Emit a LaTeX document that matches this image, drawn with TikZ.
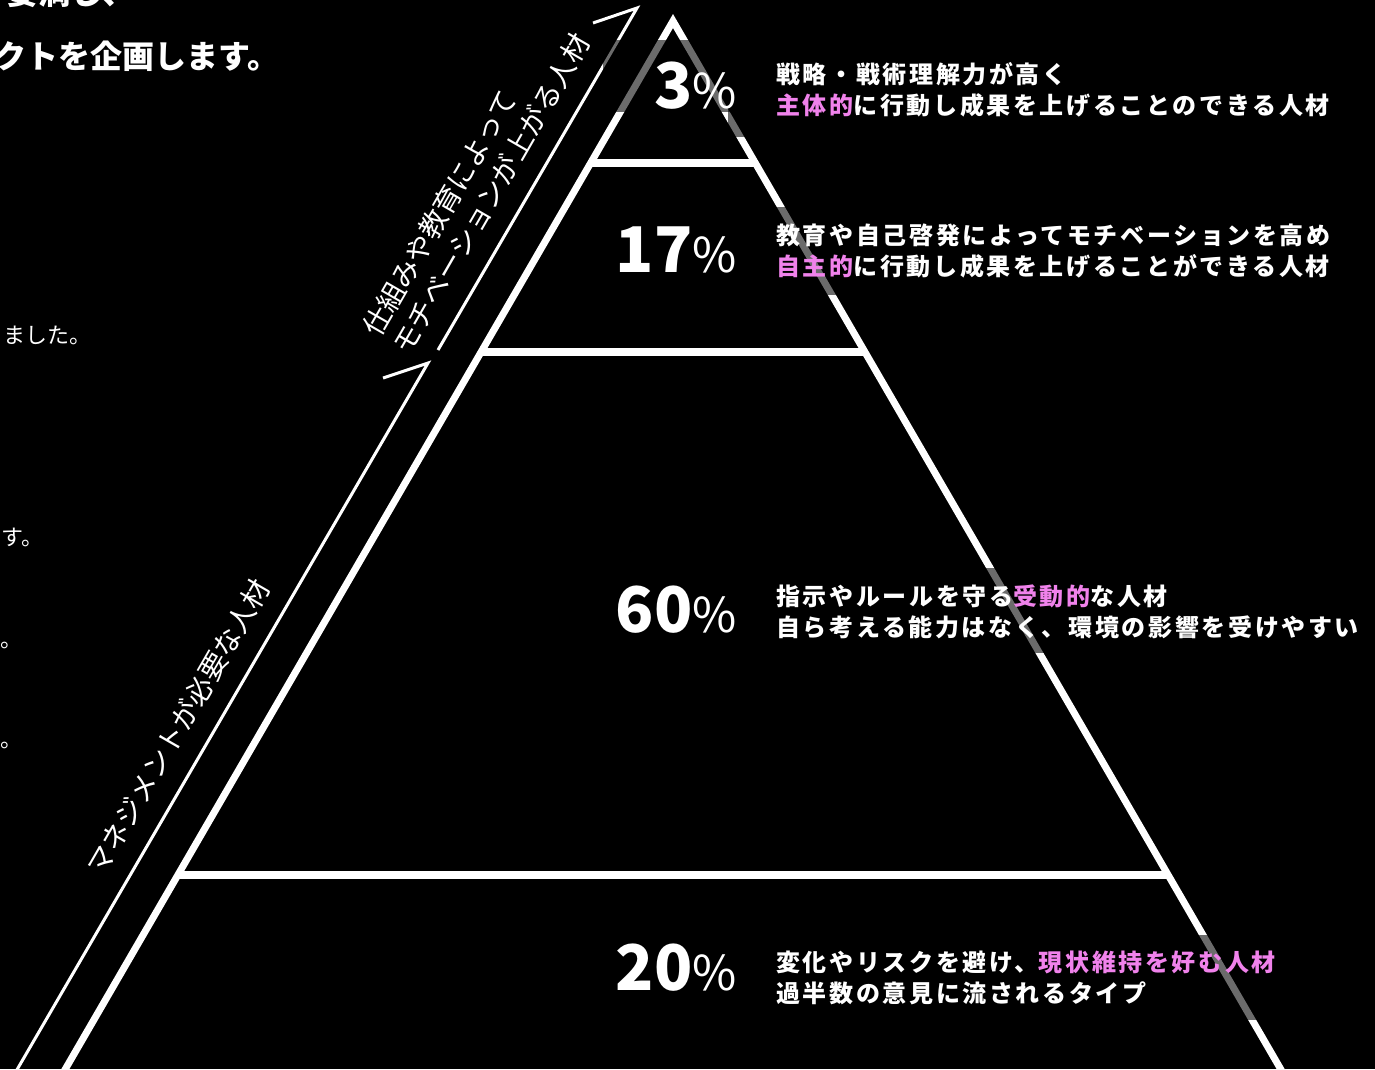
\documentclass[tikz,border=0pt]{standalone}
\usepackage{fontspec}
\newfontfamily\jp{Noto Sans CJK JP}
\newfontfamily\jpsp{Noto Sans CJK JP}[LetterSpace=11]
\definecolor{pinkhl}{RGB}{240,130,235}
\begin{document}
\begin{tikzpicture}[x=1pt,y=-1pt,
  tri/.style={draw=white,line width=7pt,line join=miter},
  band/.style={draw=white,line width=7.5pt},
  brk/.style={draw=white,line width=3pt,line join=miter},
  shade/.style={fill=black,fill opacity=0.58},
  pct/.style={text=white,anchor=base east,inner sep=0pt,font=\jp\bfseries\fontsize{63}{63}\selectfont},
  desc/.style={text=white,anchor=west,align=left,inner sep=0pt,font=\jpsp\bfseries\fontsize{24}{31}\selectfont},
  side/.style={text=white,rotate=60,align=left,inner sep=0pt,font=\jp\fontsize{28}{35}\selectfont},
  pagetxt/.style={text=white,inner sep=0pt,font=\jp\fontsize{22}{22}\selectfont,anchor=base west},
  head/.style={text=white,inner sep=0pt,font=\jp\bfseries\fontsize{32}{32}\selectfont,anchor=west}]
\fill[black] (0,0) rectangle (1375,1069);
\useasboundingbox (0,0) rectangle (1375,1069);
\clip (0,0) rectangle (1375,1069);
% pyramid
\coordinate (A) at (673,21);
\coordinate (BL) at (59,1080);
\coordinate (BR) at (1287,1080);
\coordinate (L1) at (590.6,163);
\coordinate (R1) at (755.4,163);
\coordinate (L2) at (481,352);
\coordinate (R2) at (865,352);
\coordinate (L3) at (177.7,875);
\coordinate (R3) at (1168.3,875);
\draw[tri] (BL) -- (A) -- (BR);
\draw[band] (L1) -- (R1);
\draw[band] (L2) -- (R2);
\draw[band] (L3) -- (R3);
% brackets
\coordinate (U1) at (593,23);
\coordinate (U2) at (637,8);
\coordinate (U3) at (438,350);
\coordinate (D1) at (383,378);
\coordinate (D2) at (428,363);
\coordinate (D3) at (11,1080);
\draw[brk] (U1) -- (U2) -- (U3);
\draw[brk] (D1) -- (D2) -- (D3);
% translucent text backgrounds
\fill[shade] (603,40) rectangle (742,112);
\fill[shade] (728,40) rectangle (1345,137);
\fill[shade] (740,207) rectangle (1345,295);
\fill[shade] (740,568) rectangle (1345,653);
\fill[shade] (740,935) rectangle (1345,1020);
% percentages
\node[pct] (p3) at (737,108) {3{\mdseries\fontsize{48}{48}\selectfont\%}};
\node[pct] (p17) at (737,272) {17{\mdseries\fontsize{48}{48}\selectfont\%}};
\node[pct] (p60) at (737,632) {60{\mdseries\fontsize{48}{48}\selectfont\%}};
\node[pct] (p20) at (737,990) {20{\mdseries\fontsize{48}{48}\selectfont\%}};
% descriptions
\node[desc] (d3) at (776,89.5) {戦略・戦術理解力が高く\\\textcolor{pinkhl}{主体的}に行動し成果を上げることのできる人材};
\node[desc] (d17) at (776,251.5) {教育や自己啓発によってモチベーションを高め\\\textcolor{pinkhl}{自主的}に行動し成果を上げることができる人材};
\node[desc] (d60) at (776,611.5) {指示やルールを守る\textcolor{pinkhl}{受動的}な人材\\自ら考える能力はなく、環境の影響を受けやすい};
\node[desc] (d20) at (776,977.5) {変化やリスクを避け、\textcolor{pinkhl}{現状維持を好む人材}\\過半数の意見に流されるタイプ};
% side labels
\node[side] (lab1) at (476,185) {仕組みや教育によって\\モチベーションが上がる人材};
\node[side] (lab2) at (178,727) {マネジメントが必要な人材};
% page text at left
\node[head] (h1) at (6,-8) {要満し、};
\node[head] (h2) at (-6,56) {クトを企画します。};
\node[pagetxt] (t1) at (3,343) {ました。};
\node[pagetxt] (t2) at (1,545) {す。};
\node[pagetxt] (t3) at (0,647) {。};
\node[pagetxt] (t4) at (0,747) {。};
\end{tikzpicture}
\end{document}
